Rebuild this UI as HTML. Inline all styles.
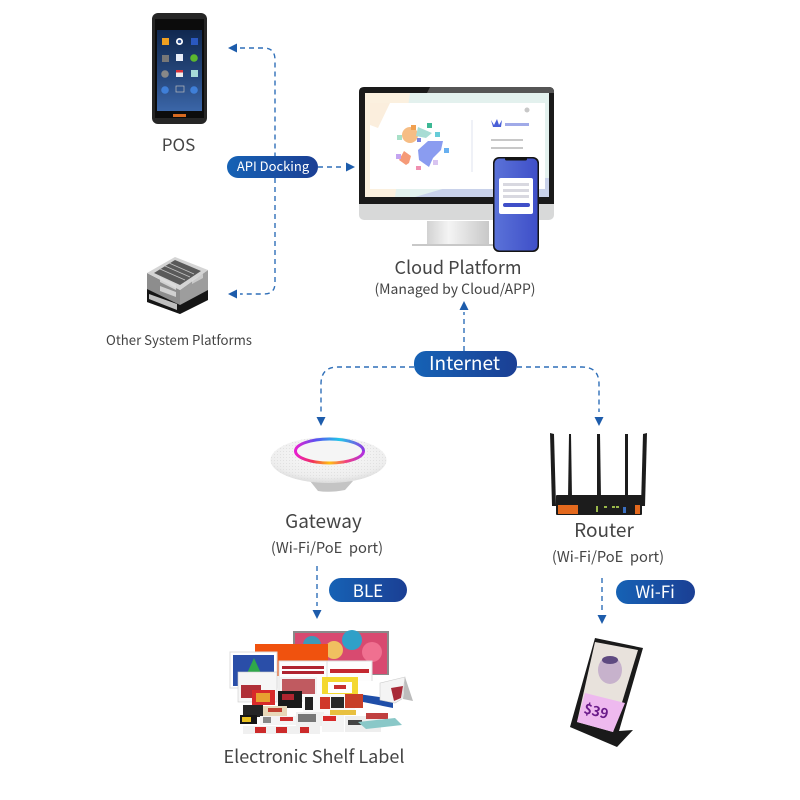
<!DOCTYPE html>
<html lang="en"><head><meta charset="utf-8"><title>System diagram</title>
<style>
html,body{margin:0;padding:0;background:#fff}
svg{display:block}
text{font-family:"Noto Sans CJK SC","Liberation Sans",sans-serif;fill:#444;white-space:pre}
.l{text-anchor:middle}
.w{fill:#fff;text-anchor:middle}
.d{fill:none;stroke:#2f6fb8;stroke-width:1.4;stroke-dasharray:5 4}
.a{fill:#1d5cab}
</style></head><body>
<svg width="800" height="800" viewBox="0 0 800 800" xmlns="http://www.w3.org/2000/svg">
<defs>
<linearGradient id="pill" x1="0" x2="1"><stop offset="0" stop-color="#1662b5"/><stop offset="1" stop-color="#1b3f94"/></linearGradient>
<linearGradient id="posbg" x1="0" y1="0" x2="0" y2="1"><stop offset="0" stop-color="#10284f"/><stop offset=".6" stop-color="#27497f"/><stop offset="1" stop-color="#3b66a8"/></linearGradient>
<linearGradient id="phone" x1="0" x2="1"><stop offset="0" stop-color="#5a72d8"/><stop offset="1" stop-color="#3f4fc8"/></linearGradient>
<linearGradient id="stand" x1="0" x2="1"><stop offset="0" stop-color="#d2d2d2"/><stop offset=".35" stop-color="#f4f4f4"/><stop offset="1" stop-color="#c8c8c8"/></linearGradient>
<linearGradient id="ringT" x1="0" x2="1"><stop offset="0" stop-color="#e81fd0"/><stop offset=".3" stop-color="#5a50f0"/><stop offset=".65" stop-color="#20c8e8"/><stop offset="1" stop-color="#8a3ce0"/></linearGradient>
<linearGradient id="ringB" x1="0" x2="1"><stop offset="0" stop-color="#e81fd0"/><stop offset=".25" stop-color="#f0305a"/><stop offset=".5" stop-color="#ffc010"/><stop offset=".75" stop-color="#f04080"/><stop offset="1" stop-color="#b030e0"/></linearGradient>
<radialGradient id="gw" cx=".5" cy=".35" r=".65"><stop offset="0" stop-color="#fbfbfb"/><stop offset=".8" stop-color="#eeeeee"/><stop offset="1" stop-color="#dcdcdc"/></radialGradient>
<pattern id="dots" width="3" height="3" patternUnits="userSpaceOnUse"><circle cx="1.5" cy="1.5" r=".5" fill="#dcdcdc"/></pattern>
</defs>

<!-- connectors -->
<path class="d" d="M240 48H264Q275 48 275 60V156"/>
<path class="d" d="M275 178V283Q275 294 264 294H240"/>
<path class="d" d="M318 167H344"/>
<path class="d" d="M464 351V312"/>
<path class="d" d="M414 367H338Q321 367 321 384V412"/>
<path class="d" d="M517 367H582Q599 367 599 384V412"/>
<path class="d" d="M317 566V606"/>
<path class="d" d="M602 578V612"/>
<polygon class="a" points="228,48 237,43.500 237,52.500"/>
<polygon class="a" points="228,294 237,289.500 237,298.500"/>
<polygon class="a" points="355,167 346,162.500 346,171.500"/>
<polygon class="a" points="464,301 459.500,310 468.500,310"/>
<polygon class="a" points="321,426 316.500,417 325.500,417"/>
<polygon class="a" points="599,426 594.500,417 603.500,417"/>
<polygon class="a" points="317,619 312.500,610 321.500,610"/>
<polygon class="a" points="602,624 597.500,615 606.500,615"/>

<!-- POS -->
<rect x="152" y="13" width="55" height="111" rx="6" fill="#262626"/>
<path d="M155 19H204V118H155Z" fill="#0c0c0c"/>
<rect x="157" y="30" width="45" height="81" fill="url(#posbg)"/>
<rect x="162" y="38" width="7" height="7" fill="#f0a020"/><circle cx="179.500" cy="41.500" r="3.500" fill="#fff"/><circle cx="179.500" cy="41.500" r="1.800" fill="#2b4f90"/><rect x="191" y="38" width="7" height="7" fill="#2a58c0"/>
<rect x="162" y="55" width="7" height="7" fill="#777"/><rect x="176" y="54" width="7" height="7" fill="#e8eef8"/><circle cx="194" cy="58" r="3.800" fill="#5cb82e"/>
<circle cx="165" cy="74" r="3.800" fill="#888"/><rect x="176" y="70" width="7" height="7" fill="#eee"/><rect x="176" y="70" width="7" height="2.500" fill="#d8323a"/><rect x="191" y="70" width="7" height="7" fill="#a8dcd8"/>
<circle cx="165" cy="90" r="3.800" fill="#3f7fd8"/><rect x="176" y="86" width="8" height="6" fill="none" stroke="#bbb" stroke-width=".7"/><circle cx="194" cy="90" r="3.800" fill="#3f7fd8"/>
<rect x="173" y="114" width="13" height="3" fill="#d86a20"/>

<!-- Monitor -->
<rect x="359" y="87" width="195" height="133" rx="5" fill="#d8d9d9"/>
<path d="M364 87H549Q554 87 554 92V204H359V92Q359 87 364 87Z" fill="#1a1a1a"/>
<path d="M430 87H549Q554 87 554 92V93H427Z" fill="#555"/>
<rect x="365" y="93" width="184" height="104" fill="#e3f1ee"/>
<path d="M365 93H410L395 197H365Z" fill="#fbf0df"/>
<path d="M415 197L480 178H549V197Z" fill="#c9d2ea"/>
<rect x="370" y="103" width="175" height="86" fill="#fff"/>
<path d="M370 103H390L378 128L370 125Z" fill="#fbeedd"/>
<ellipse cx="410" cy="135" rx="8" ry="8" fill="#f6bd84"/>
<polygon points="418,127 432,133 426,138 416,136" fill="#a8dcd4"/>
<path d="M418 150L428 141H443L441 150L433 158L429 167L419 160Z" fill="#8a9cf0"/>
<path d="M404 151L411 156L409 163L406 165L399 160Z" fill="#f59a78"/>
<rect x="411" y="125" width="5" height="5" fill="#f0a050"/><rect x="427" y="123" width="5" height="5" fill="#3cb894"/><rect x="397" y="135" width="5" height="5" fill="#a8e0c8"/><rect x="435" y="132" width="5" height="5" fill="#66ccd8"/><rect x="417" y="138" width="4" height="4" fill="#7a84e0"/><rect x="444" y="148" width="5" height="5" fill="#68b0f0"/><rect x="396" y="154" width="5" height="5" fill="#c4a4f0"/><rect x="416" y="166" width="5" height="4" fill="#f090b0"/><rect x="433" y="160" width="5" height="5" fill="#d8c4f0"/>
<line x1="472" y1="120" x2="472" y2="172" stroke="#dfe3ef" stroke-width="1"/>
<path d="M491 120l3 5 3-6 2 6 3-5-1 7h-8z" fill="#4a60d8"/>
<rect x="505" y="123" width="24" height="3" fill="#a0aae8"/>
<rect x="491" y="139" width="32" height="2" fill="#c8c8c8"/><rect x="491" y="147" width="32" height="2" fill="#c8c8c8"/>
<circle cx="527" cy="110" r="2.500" fill="#c8c8c8"/>
<path d="M427 221H489V245H427Z" fill="url(#stand)"/>
<rect x="412" y="244" width="84" height="2" fill="#c8c8c8"/>

<!-- Phone -->
<rect x="493" y="157" width="46" height="95" rx="6" fill="#141414"/>
<rect x="494.500" y="158.500" width="43" height="92" rx="5" fill="url(#phone)"/>
<rect x="505" y="157" width="22" height="3.500" rx="1.500" fill="#141414"/>
<rect x="499" y="178" width="34" height="36" rx="2" fill="#fff"/>
<rect x="503" y="183" width="26" height="3" fill="#d8d8e0"/><rect x="503" y="189" width="26" height="3" fill="#d8d8e0"/><rect x="503" y="195" width="26" height="3" fill="#d8d8e0"/>
<rect x="503" y="203" width="27" height="4" rx="2" fill="#3f4fc8"/>

<!-- Server -->
<polygon points="147,273 180,290 180,314 147,302" fill="#8d8d8d"/>
<polygon points="208,270 180,290 180,314 208,300" fill="#9d9d9d"/>
<polygon points="175,257 208,270 180,290 147,273" fill="#d4d4d4"/>
<polygon points="175,260 201,271 180,285 154,273" fill="#5a5a5a"/>
<g stroke="#c4c4c4" stroke-width=".8"><line x1="169" y1="263" x2="194" y2="274"/><line x1="165" y1="266" x2="190" y2="277"/><line x1="160" y1="269" x2="185" y2="280"/></g>
<polygon points="147,289 180,305 208,290 208,300 180,314 147,302" fill="#151515"/>
<polygon points="149,299 177,310 177,304 149,294" fill="#ddd" opacity=".85"/>
<polygon points="160,291 176,297 176,292 160,286" fill="#ddd" opacity=".85"/>
<polygon points="160,282 176,290 176,285 160,277" fill="#ddd" opacity=".85"/>
<polygon points="192,280 203,274 203,278 192,284" fill="#ddd" opacity=".7"/>

<!-- Gateway -->
<path d="M310 481L318 491Q330 493 345 490L353 481Z" fill="#c4c4c4"/>
<ellipse cx="328.500" cy="460" rx="58" ry="23" fill="url(#gw)"/>
<ellipse cx="328.500" cy="460" rx="58" ry="23" fill="url(#dots)"/>
<ellipse cx="329.500" cy="451" rx="34" ry="12" fill="#f5f5f5"/>
<path d="M295.500 451A34 12 0 0 1 363.500 451" fill="none" stroke="url(#ringT)" stroke-width="3"/>
<path d="M295.500 451A34 12 0 0 0 363.500 451" fill="none" stroke="url(#ringB)" stroke-width="3"/>

<!-- Router -->
<g fill="#1c1c1c">
<polygon points="550,433 554,434 556,506 552,506"/>
<polygon points="647,433 643,434 641,506 645,506"/>
<polygon points="569,434 571,434 572,498 568,498"/>
<polygon points="597,434 600,434 601,498 597,498"/>
<polygon points="625,434 628,434 628,498 625,498"/>
<rect x="556" y="495" width="86" height="20" rx="1"/>
</g>
<rect x="558" y="505" width="20" height="9" fill="#e4691d"/><rect x="635" y="505" width="5" height="9" fill="#e4691d"/>
<rect x="623" y="507" width="3" height="6" fill="#3a6fc0"/>
<g fill="#9ab84a"><rect x="596" y="506" width="2" height="6"/><rect x="604" y="506" width="3" height="2"/><rect x="612" y="506" width="3" height="2"/><rect x="616" y="506" width="3" height="2"/></g>

<!-- ESL -->
<rect x="293" y="631" width="96" height="44" fill="#8a8a8a"/>
<rect x="295" y="633" width="92" height="41" fill="#d84a70"/>
<circle cx="312" cy="645" r="9" fill="#3d9ab8"/><circle cx="352" cy="640" r="10" fill="#30a0c8"/><circle cx="372" cy="652" r="10" fill="#f07090"/><circle cx="334" cy="650" r="9" fill="#f0c060"/>
<rect x="255" y="644" width="73" height="32" fill="#f0520e"/>
<rect x="230" y="652" width="47" height="36" fill="#fff" stroke="#ddd"/>
<rect x="233" y="655" width="41" height="31" fill="#2a4ea8"/><polygon points="254,658 264,680 244,680" fill="#2fa84a"/>
<rect x="238" y="672" width="39" height="30" fill="#f6f6f6" stroke="#ccc" stroke-width=".6"/><rect x="241" y="685" width="20" height="13" fill="#b03038"/>
<rect x="279" y="661" width="48" height="40" fill="#fdfdfd" stroke="#ddd"/><rect x="282" y="666" width="42" height="3" fill="#b02530"/><rect x="282" y="671" width="42" height="3" fill="#b02530"/>
<rect x="327" y="661" width="45" height="22" fill="#fdfdfd" stroke="#ddd"/><rect x="330" y="669" width="39" height="4" fill="#c42830"/>
<rect x="280" y="677" width="37" height="20" fill="#f4f4f4"/><rect x="282" y="679" width="33" height="15" fill="#c05a60"/>
<rect x="322" y="677" width="36" height="19" fill="#f4d830"/><rect x="328" y="682" width="24" height="11" fill="#fff"/><rect x="334" y="685" width="12" height="4" fill="#c83030"/>
<rect x="358" y="681" width="35" height="27" fill="#fff"/><polygon points="358,694 393,699 393,708 358,701" fill="#1f4ea8"/>
<polygon points="380,683 405,677 402,699 395,703 380,700" fill="#f4f4f4" stroke="#ccc" stroke-width=".6"/><polygon points="391,688 403,686 401,698 394,701" fill="#a82a38"/>
<polygon points="405,677 413,701 403,699" fill="#bcbcbc"/>
<rect x="252" y="690" width="23" height="15" fill="#d82a2a"/><rect x="256" y="693" width="14" height="9" fill="#e8a030"/>
<rect x="278" y="691" width="24" height="17" fill="#1a1a1a"/><rect x="282" y="694" width="12" height="6" fill="#b02530"/>
<rect x="303" y="694" width="52" height="20" fill="#fafafa"/>
<rect x="305" y="697" width="8" height="13" fill="#222"/><rect x="320" y="697" width="10" height="12" fill="#d0382a"/><rect x="331" y="697" width="13" height="11" fill="#2a2a2a"/><rect x="345" y="694" width="18" height="14" fill="#c8402a"/>
<rect x="243" y="705" width="20" height="12" fill="#252525"/>
<rect x="263" y="706" width="24" height="11" fill="#e8d8b8"/><rect x="268" y="708" width="14" height="4" fill="#c04030"/>
<rect x="240" y="715" width="17" height="9" fill="#161616"/><rect x="242" y="717" width="9" height="5" fill="#e8c020"/>
<rect x="260" y="716" width="38" height="9" fill="#f4f4f4"/><rect x="280" y="717" width="13" height="4" fill="#d03030"/><rect x="263" y="717" width="8" height="6" fill="#888"/>
<rect x="296" y="712" width="28" height="14" fill="#f0f0f0"/><rect x="298" y="714" width="18" height="8" fill="#777"/>
<rect x="322" y="714" width="22" height="18" fill="#f4f4f4"/><rect x="323" y="716" width="13" height="5" fill="#d82a2a"/>
<rect x="330" y="710" width="26" height="5" fill="#e8c040"/><rect x="345" y="716" width="36" height="16" fill="#eee"/><rect x="348" y="720" width="14" height="5" fill="#444"/>
<rect x="366" y="713" width="22" height="6" fill="#c04040"/>
<rect x="243" y="726" width="54" height="8" fill="#f0f0f0"/><rect x="255" y="727" width="11" height="6" fill="#cc2a2a"/><rect x="276" y="727" width="11" height="6" fill="#cc2a2a"/>
<rect x="297" y="726" width="23" height="8" fill="#f0f0f0"/><rect x="300" y="727" width="9" height="6" fill="#cc2a2a"/>
<polygon points="358,722 395,718 402,725 366,729" fill="#8ac8c8"/>

<!-- Signage -->
<polygon points="595,638 643,648 619,731 633,730 617,747 570,727" fill="#1a1a1a"/>
<polygon points="595,642 638,650 613,732 577,722" fill="#e8e2dc"/>
<ellipse cx="610" cy="670" rx="12" ry="14" fill="#c7b2cc"/>
<ellipse cx="610" cy="660" rx="8" ry="4" fill="#5e4a80"/>
<polygon points="585,693 625,703 613,732 577,722" fill="#eeb9ef"/>
<text x="583" y="713" font-size="14" font-weight="700" style="fill:#6a1b8a" transform="rotate(14 583 713)">$39</text>

<!-- pills -->
<rect x="227" y="156" width="91" height="22" rx="11" fill="url(#pill)"/>
<text x="273" y="171" font-size="13" class="w" style="fill:#fff">API Docking</text>
<rect x="414" y="351" width="103" height="26" rx="12" fill="url(#pill)"/>
<text x="464.500" y="370" font-size="19" class="w" style="fill:#fff">Internet</text>
<rect x="329" y="578" width="78" height="24" rx="12" fill="url(#pill)"/>
<text x="368" y="597" font-size="17" class="w" style="fill:#fff">BLE</text>
<rect x="616" y="580" width="79" height="24" rx="12" fill="url(#pill)"/>
<text x="655" y="598" font-size="17" class="w" style="fill:#fff">Wi-Fi</text>

<!-- labels -->
<text x="178.500" y="151" font-size="17" class="l">POS</text>
<text x="179" y="345" font-size="13.200" class="l">Other System Platforms</text>
<text x="458" y="274" font-size="18" class="l">Cloud Platform</text>
<text x="455" y="294" font-size="14" class="l">(Managed by Cloud/APP)</text>
<text x="323.500" y="528" font-size="19" class="l">Gateway</text>
<text x="327" y="553" font-size="14.700" class="l" xml:space="preserve">(Wi-Fi/PoE  port)</text>
<text x="604" y="537" font-size="19" class="l">Router</text>
<text x="608" y="562" font-size="14.700" class="l" xml:space="preserve">(Wi-Fi/PoE  port)</text>
<text x="314" y="763" font-size="18" class="l">Electronic Shelf Label</text>
</svg>
</body></html>
